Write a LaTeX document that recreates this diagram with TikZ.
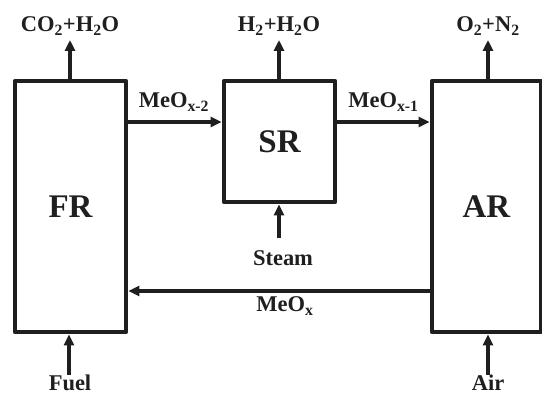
\documentclass[tikz,border=0pt]{standalone}
\usepackage{fontspec}
\setmainfont{Liberation Serif}
\usetikzlibrary{arrows.meta}
\tikzset{
  reactor/.style={draw=black!88, line width=4.8pt, line join=round, minimum width=111pt, inner sep=0pt, font=\bfseries\fontsize{33}{33}\selectfont, text=black!88},
  lbl/.style={inner sep=0pt, anchor=base, font=\bfseries\fontsize{22.5}{22.5}\selectfont, text=black!88},
  flow/.style={draw=black!88, line width=3.5pt, -{Triangle[length=11pt,width=10pt]}}
}
\begin{document}
\begin{tikzpicture}[x=1pt,y=-1pt]
\useasboundingbox (0,0) rectangle (542,395);
\node[reactor, minimum height=251pt] (FR) at (70.5,206.5) {FR};
\node[reactor, minimum height=121pt] (SR) at (279.5,141.5) {SR};
\node[reactor, minimum width=109pt, minimum height=251pt] (AR) at (486.5,206.5) {AR};
% labels
\node[lbl] (co2) at (70,32) {CO\textsubscript{2}+H\textsubscript{2}O};
\node[lbl] (h2) at (279,32) {H\textsubscript{2}+H\textsubscript{2}O};
\node[lbl] (o2) at (488,32) {O\textsubscript{2}+N\textsubscript{2}};
\node[lbl] (fuel) at (70,391) {Fuel};
\node[lbl] (air) at (488,391) {Air};
\node[lbl] (steam) at (283,266) {Steam};
\node[lbl] (m2) at (174,108) {MeO\textsubscript{x-2}};
\node[lbl] (m1) at (383.5,108) {MeO\textsubscript{x-1}};
\node[lbl] (mx) at (285,312) {MeO\textsubscript{x}};
% flows
\coordinate (c1) at (70,40);
\coordinate (c2) at (279,40);
\coordinate (c3) at (488,40);
\draw[flow] (FR.north -| c1) -- (c1);
\draw[flow] (SR.north -| c2) -- (c2);
\draw[flow] (AR.north -| c3) -- (c3);
\coordinate (f0) at (69,375);
\coordinate (a0) at (488,375);
\coordinate (s0) at (279,238);
\draw[flow] (f0) -- (FR.south -| f0);
\draw[flow] (a0) -- (AR.south -| a0);
\draw[flow] (s0) -- (SR.south -| s0);
\coordinate (y1) at (0,122);
\coordinate (y2) at (0,291);
\draw[flow] (FR.east |- y1) -- (SR.west |- y1);
\draw[flow] (SR.east |- y1) -- (AR.west |- y1);
\draw[flow] (AR.west |- y2) -- (FR.east |- y2);
\end{tikzpicture}
\end{document}
